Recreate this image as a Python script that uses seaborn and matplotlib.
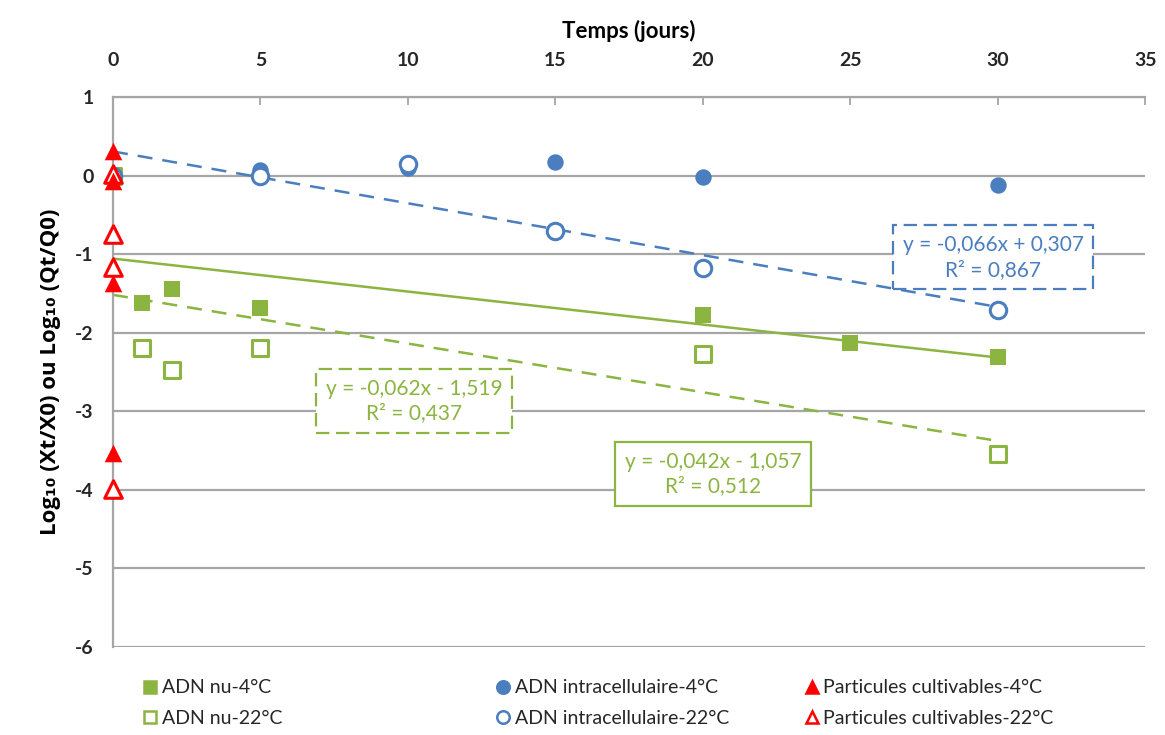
import numpy as np
import pandas as pd
import matplotlib
matplotlib.use("Agg")
import matplotlib.pyplot as plt
import seaborn as sns
from matplotlib.lines import Line2D

# ---- data ----
nu4_x = [0, 1, 2, 5, 20, 25, 30]
nu4_y = [0.0, -1.62, -1.44, -1.68, -1.77, -2.13, -2.31]

nu22_x = [0, 1, 2, 5, 20, 30]
nu22_y = [0.0, -2.19, -2.47, -2.19, -2.27, -3.54]

intra4_x = [0, 5, 10, 15, 20, 30]
intra4_y = [0.0, 0.07, 0.09, 0.17, -0.02, -0.12]

intra22_x = [0, 5, 10, 15, 20, 30]
intra22_y = [0.0, 0.0, 0.15, -0.70, -1.18, -1.71]

part4_x = [0, 0, 0, 0]
part4_y = [0.31, -0.07, -1.37, -3.53]

part22_x = [0, 0, 0, 0]
part22_y = [0.02, -0.74, -1.17, -3.99]

# trend lines: (slope, intercept, R2)
fit_intra22 = (-0.066, 0.307, 0.867)
fit_nu4 = (-0.042, -1.057, 0.512)
fit_nu22 = (-0.062, -1.519, 0.437)

GREEN = "#8BB440"
BLUE = "#4A7EBF"
RED = "#FF0000"
GRID = "#A6A6A6"
TXT = "#262626"

sns.set_style("white")
plt.rcParams["font.family"] = ["Lato", "DejaVu Sans"]
plt.rcParams["axes.unicode_minus"] = False

fig = plt.figure(figsize=(11.65, 7.35), dpi=100)
ax = fig.add_axes([0.097, 0.12, 0.886, 0.748])

ax.set_xlim(0, 35)
ax.set_ylim(-6, 1)
ax.set_yticks(range(-6, 2))
ax.set_xticks(range(0, 36, 5))
ax.yaxis.grid(True, color=GRID, linewidth=1.6)
ax.set_axisbelow(True)
for s in ["right", "bottom"]:
    ax.spines[s].set_visible(False)
ax.spines["top"].set_color(GRID)
ax.spines["top"].set_linewidth(1.6)
ax.spines["left"].set_color(GRID)
ax.spines["left"].set_linewidth(1.6)
ax.xaxis.tick_top()
ax.xaxis.set_label_position("top")
ax.tick_params(axis="x", direction="in", length=6, color=GRID, width=1.3,
               labelsize=14, pad=20, labelcolor=TXT)
ax.tick_params(axis="y", length=0, labelsize=14, pad=14, labelcolor=TXT)
for lab in ax.get_xticklabels() + ax.get_yticklabels():
    lab.set_fontweight("bold")
ax.set_xlabel("Temps (jours)", fontsize=16, fontweight="bold", labelpad=10, color="black")
ax.set_ylabel("Log₁₀ (Xt/X0) ou Log₁₀ (Qt/Q0)", fontsize=16, fontweight="bold",
              labelpad=10, family=["Open Sans", "DejaVu Sans"], color="black")

# trend lines
xs = np.array([0, 30])
ax.plot(xs, fit_nu4[1] + fit_nu4[0] * xs, color=GREEN, lw=1.8, zorder=2)
ax.plot(xs, fit_nu22[1] + fit_nu22[0] * xs, color=GREEN, lw=1.8, ls=(0, (6, 4)), zorder=2)
ax.plot(xs, fit_intra22[1] + fit_intra22[0] * xs, color=BLUE, lw=1.8, ls=(0, (6, 4)), zorder=2)

# points
sns.scatterplot(x=nu22_x, y=nu22_y, marker="s", s=140, facecolor="white",
                edgecolor=GREEN, linewidth=2.2, ax=ax, zorder=3)
sns.scatterplot(x=nu4_x, y=nu4_y, marker="s", s=140, color=GREEN,
                edgecolor=GREEN, linewidth=0, ax=ax, zorder=3)
sns.scatterplot(x=intra4_x, y=intra4_y, marker="o", s=140, color=BLUE,
                edgecolor=BLUE, linewidth=0, ax=ax, zorder=4)
sns.scatterplot(x=intra22_x, y=intra22_y, marker="o", s=140, facecolor="white",
                edgecolor=BLUE, linewidth=2.2, ax=ax, zorder=4)
sns.scatterplot(x=part22_x, y=part22_y, marker="^", s=160, facecolor="white",
                edgecolor=RED, linewidth=2.2, ax=ax, zorder=5, clip_on=False)
sns.scatterplot(x=part4_x, y=part4_y, marker="^", s=160, color=RED,
                edgecolor=RED, linewidth=0, ax=ax, zorder=5, clip_on=False)

# equation boxes
def eq_box(x, y, fit, color, ls):
    txt = "y = {}x {} {}\nR² = {}".format(
        f"{fit[0]:.3f}".replace(".", ","),
        "+" if fit[1] >= 0 else "-",
        f"{abs(fit[1]):.3f}".replace(".", ","),
        f"{fit[2]:.3f}".replace(".", ","))
    ax.text(x, y, txt, ha="center", va="center", fontsize=15, color=color,
            linespacing=1.3, zorder=6,
            bbox=dict(boxstyle="square,pad=0.45", fc="white", ec=color, lw=1.6, ls=ls))

eq_box(29.85, -1.04, fit_intra22, BLUE, (0, (6, 3)))
eq_box(10.2, -2.87, fit_nu22, GREEN, (0, (6, 3)))
eq_box(20.35, -3.8, fit_nu4, GREEN, "-")

# legend: three groups of two rows
def handle(marker, color, filled):
    return Line2D([], [], ls="none", marker=marker, markersize=9,
                  markerfacecolor=color if filled else "white",
                  markeredgecolor=color, markeredgewidth=1.8)

groups = [
    ([handle("s", GREEN, True), handle("s", GREEN, False)],
     ["ADN nu-4°C", "ADN nu-22°C"], 0.112),
    ([handle("o", BLUE, True), handle("o", BLUE, False)],
     ["ADN intracellulaire-4°C", "ADN intracellulaire-22°C"], 0.415),
    ([handle("^", RED, True), handle("^", RED, False)],
     ["Particules cultivables-4°C", "Particules cultivables-22°C"], 0.68),
]
for hs, labels, x0 in groups:
    fig.legend(hs, labels, loc="lower left", bbox_to_anchor=(x0, -0.005),
               frameon=False, fontsize=14, handlelength=0.8, handletextpad=0.2,
               labelspacing=0.7, borderaxespad=0.2, labelcolor=TXT)

fig.savefig("out.png", dpi=100)
